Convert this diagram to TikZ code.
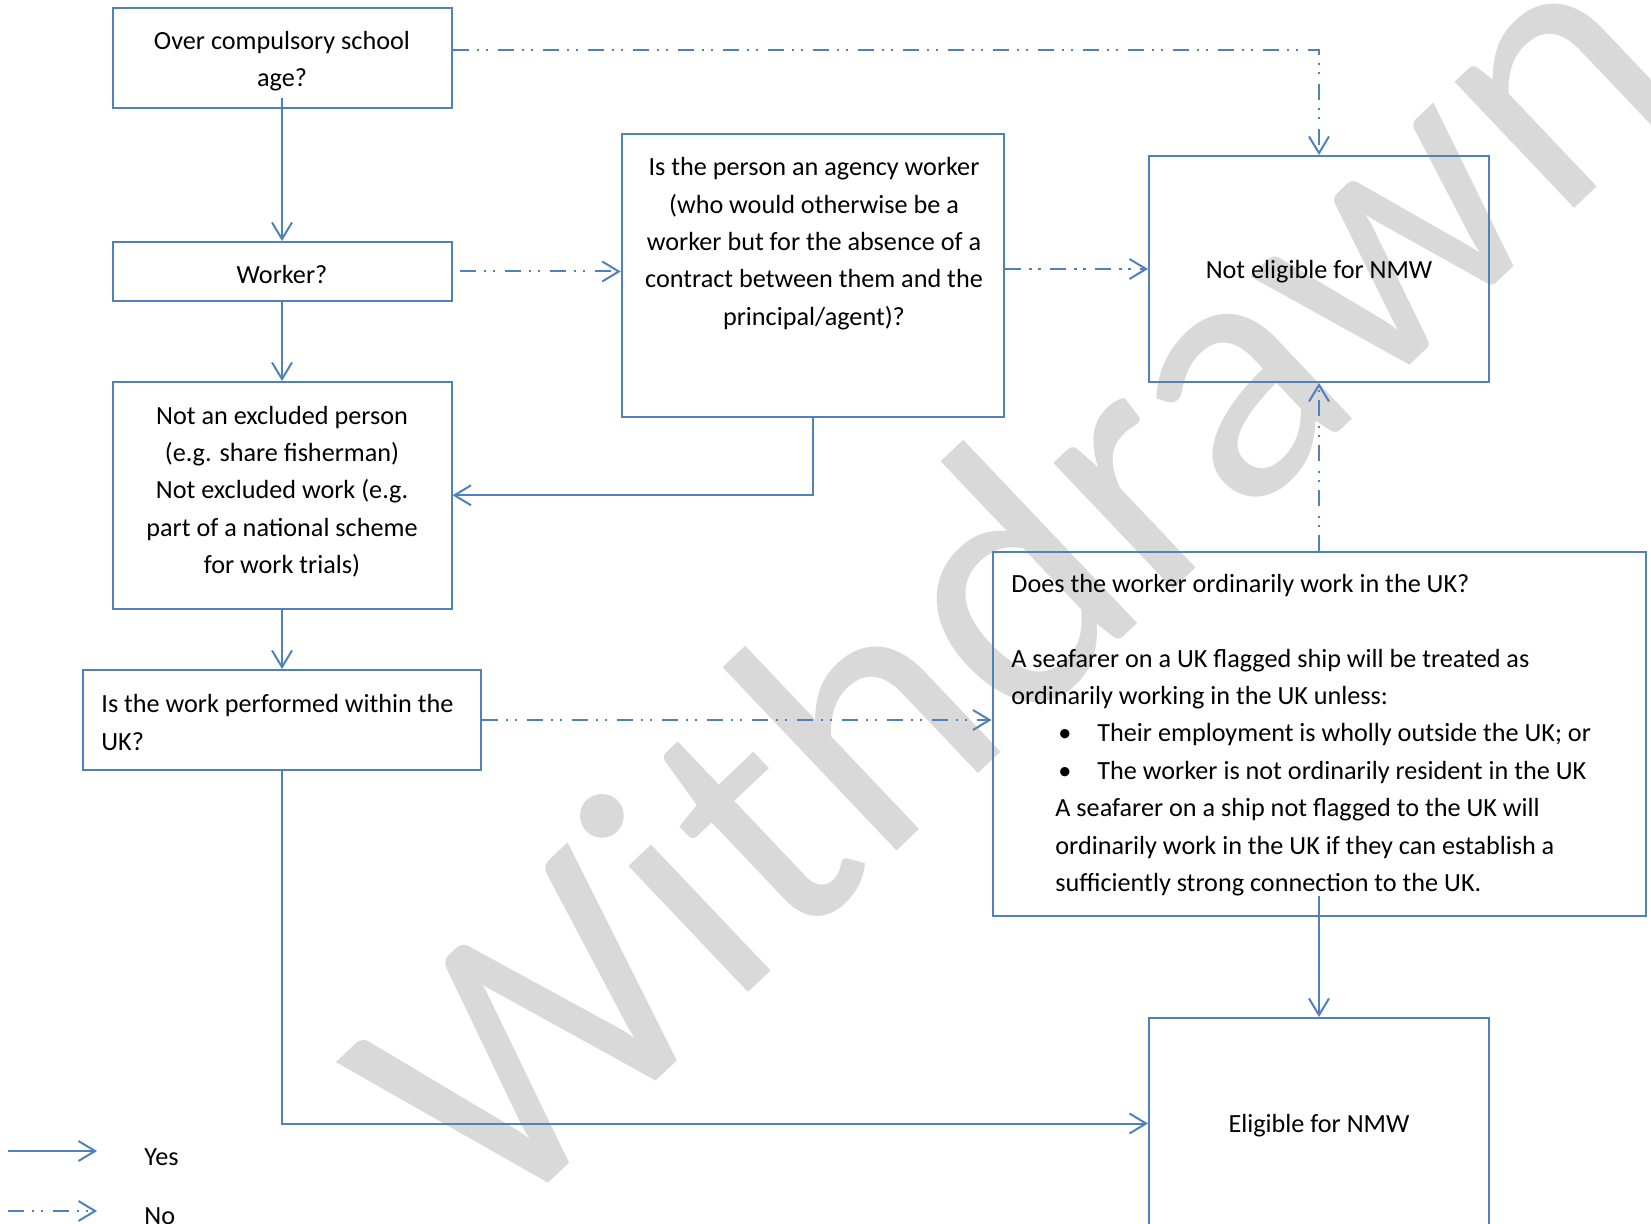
\documentclass[tikz,border=0pt]{standalone}
\usepackage{fontspec}
\setmainfont{Carlito}
\usepackage{xcolor}
\usetikzlibrary{arrows.meta}
\tikzstyle{box} = [draw=flow edge, line width=1pt, inner sep=0pt]
\tikzset{txt/.style={inner sep=0pt, yshift=-1.3pt, align=center, font=\fontsize{13.1pt}{18.7pt}\selectfont},
    yesline/.style={draw=flow edge, line width=1pt, -{Straight Barb[length=8.3pt,width=10pt]}},
    noline/.style={yesline, dash pattern=on 8pt off 4pt on 1.2pt off 3.3pt on 1.2pt off 4.8pt}}

\begin{document}
\begin{tikzpicture}[x=0.5pt, y=-0.5pt]
    % Definition of colours
    \definecolor{flow edge}{RGB}{79,129,189}
    \definecolor{wm gray}{RGB}{217,217,217}
    \useasboundingbox (0,0) rectangle (1651,1224);
    %
    \node[text=wm gray, rotate=43.5, inner sep=0pt, font=\fontsize{182pt}{182pt}\selectfont] (watermark) at (1009,573) {Withdrawn};
    % left column
    \node[box, minimum width=169.5pt, minimum height=50pt] (age) at (282,58.4) {};
    \node[box, minimum width=169.5pt, minimum height=29.5pt] (worker) at (282,271.5) {};
    \node[box, minimum width=169.5pt, minimum height=113.3pt] (excluded) at (282,495.3) {};
    \node[box, minimum width=199pt, minimum height=50pt] (withinuk) at (282,720) {};
    \node[txt] (age text) at (age) {Over compulsory school\\age?};
    \node[txt] (worker text) at (worker) {Worker?};
    \node[txt] (excluded text) at (282,489) {Not an excluded person\\(e.g. share fisherman)\\Not excluded work (e.g.\\part of a national scheme\\for work trials)};
    \node[txt, anchor=west, align=left] (withinuk text) at (101,720) {Is the work performed within the\\UK?};
    % middle and right
    \node[box, minimum width=191.25pt, minimum height=141.5pt] (agency) at (813,275.5) {};
    \node[box, minimum width=170pt, minimum height=113pt] (noteligible) at (1319,269) {};
    \node[box, minimum width=326.5pt, minimum height=182pt] (ordinarily) at (1319,734) {};
    \node[box, minimum width=170pt, minimum height=105.5pt] (eligible) at (1319,1123.5) {};
    \node[txt] (agency text) at (814,241) {Is the person an agency worker\\(who would otherwise be a\\worker but for the absence of a\\contract between them and the\\principal/agent)?};
    \node[txt] (noteligible text) at (noteligible) {Not eligible for NMW};
    \node[txt, anchor=west, align=left] (ordinarily text) at (1011,732.5) {Does the worker ordinarily work in the UK?\\[18.7pt]
        A seafarer on a UK flagged ship will be treated as\\
        ordinarily working in the UK unless:\\
        \hspace*{23.5pt}\makebox[19.5pt][l]{\textbullet}Their employment is wholly outside the UK; or\\
        \hspace*{23.5pt}\makebox[19.5pt][l]{\textbullet}The worker is not ordinarily resident in the UK\\
        \hspace*{22pt}A seafarer on a ship not flagged to the UK will\\
        \hspace*{22pt}ordinarily work in the UK if they can establish a\\
        \hspace*{22pt}sufficiently strong connection to the UK.};
    \node[txt] (eligible text) at (eligible) {Eligible for NMW};
    % connectors
    \draw[noline] ([yshift=4pt]age.east) -| (noteligible.north);
    \draw[yesline] ([yshift=5.5pt]age.south) -- (worker.north);
    \draw[noline] ([xshift=3.5pt]worker.east) -- (worker.east -| agency.west);
    \draw[noline] (agency.east |- noteligible.west) -- (noteligible.west);
    \draw[yesline] (worker.south) -- (excluded.north);
    \draw[yesline] (agency.south) |- (excluded.east);
    \draw[yesline] (excluded.south) -- (withinuk.north);
    \draw[noline] (withinuk.east) -- (withinuk.east -| ordinarily.west);
    \draw[yesline] (withinuk.south) |- (eligible.west);
    \draw[noline] (ordinarily.north) -- (noteligible.south);
    \draw[yesline] ([yshift=10.5pt]ordinarily.south) -- (eligible.north);
    % key
    \coordinate (yes start) at (8,1151);
    \coordinate (yes end) at (97,1151);
    \coordinate (no start) at (8,1211);
    \coordinate (no end) at (97,1211);
    \draw[yesline] (yes start) -- (yes end);
    \draw[noline] (no start) -- (no end);
    \node[txt, anchor=west] (yes label) at (144,1155) {Yes};
    \node[txt, anchor=west] (no label) at (144,1214) {No};
\end{tikzpicture}
\end{document}
